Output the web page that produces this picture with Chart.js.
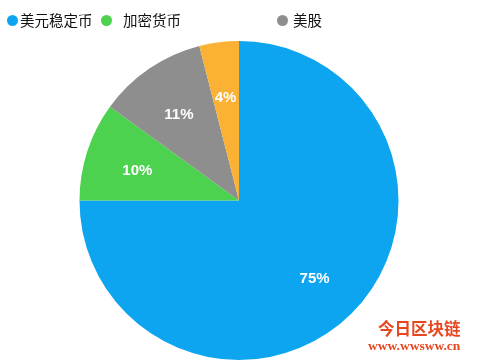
<!DOCTYPE html>
<html>
<head>
<meta charset="utf-8">
<script src="https://cdn.jsdelivr.net/npm/chart.js@4/dist/chart.umd.min.js"></script>
<style>
  html, body { margin: 0; padding: 0; background: #fff; }
  #wrap { position: relative; width: 480px; height: 360px; overflow: hidden; }
  canvas { position: absolute; left: 0; top: 0; }
  .leg { position: absolute; top: 12px; font: 14.5px "Noto Sans CJK SC", sans-serif; line-height: 16px; color: #111; white-space: nowrap; }
  .dot { position: absolute; top: 15px; width: 11px; height: 11px; border-radius: 50%; }
  .wm1 { position: absolute; left: 378px; top: 319px; font: bold 16.5px "Noto Sans CJK SC", sans-serif; color: #e8461e; line-height: 18px; }
  .wm2 { position: absolute; left: 368px; top: 339px; font: bold 13.5px "Liberation Serif", serif; color: #e8461e; line-height: 14px; }
</style>
</head>
<body>
<div id="wrap">
  <canvas id="pie" width="480" height="360"></canvas>
  <div id="legend"></div>
  <div class="wm1">今日区块链</div>
  <div class="wm2">www.wwsww.cn</div>
</div>
<script>
const categories = ['美元稳定币', '加密货币', '美股', ''];
const shares = [75, 10, 11, 4];
const colors = ['#0ea5f0', '#4cd24e', '#8e8e8e', '#fbb133'];

// legend: only first three entries are shown in the picture
const legendX = [[12, 20], [106, 123], [282, 293]];
let legend = document.getElementById('legend');
for (let i = 0; i < 3; i++) {
  let d = document.createElement('div');
  d.className = 'dot';
  d.style.left = (legendX[i][0] - 5.5) + 'px';
  d.style.background = colors[i];
  legend.append(d);
  let t = document.createElement('div');
  t.className = 'leg';
  t.style.left = legendX[i][1] + 'px';
  t.textContent = categories[i];
  legend.append(t);
}

const sliceLabels = {
  id: 'sliceLabels',
  afterDatasetsDraw(chart) {
    const ctx = chart.ctx;
    const meta = chart.getDatasetMeta(0);
    ctx.save();
    ctx.fillStyle = '#fff';
    ctx.font = 'bold 15px "Liberation Sans", Arial, sans-serif';
    ctx.textAlign = 'center';
    ctx.textBaseline = 'middle';
    meta.data.forEach((arc, i) => {
      const mid = (arc.startAngle + arc.endAngle) / 2;
      const r = arc.outerRadius * 0.67;
      ctx.fillText(shares[i] + '%', arc.x + Math.cos(mid) * r, arc.y + Math.sin(mid) * r + 3);
    });
    ctx.restore();
  }
};

new Chart(document.getElementById('pie'), {
  type: 'pie',
  data: {
    labels: categories,
    datasets: [{
      data: shares,
      backgroundColor: colors,
      borderWidth: 0
    }]
  },
  options: {
    responsive: false,
    animation: false,
    layout: { padding: { top: 41, bottom: 0, left: 0, right: 2 } },
    plugins: {
      legend: { display: false },
      tooltip: { enabled: false }
    }
  },
  plugins: [sliceLabels]
});
</script>
</body>
</html>
